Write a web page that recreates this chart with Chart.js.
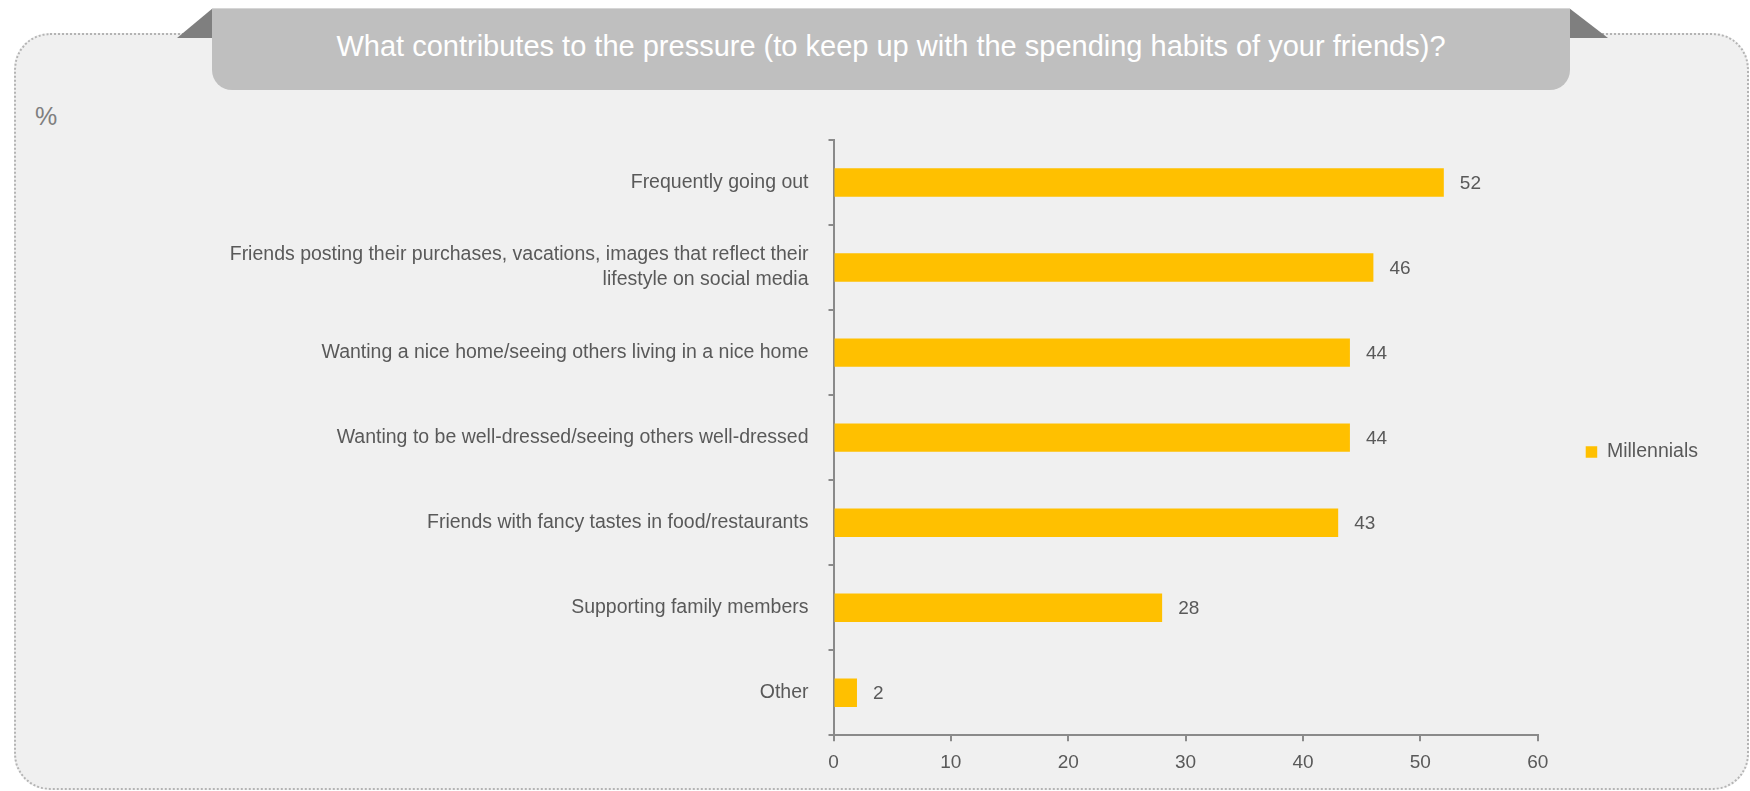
<!DOCTYPE html>
<html>
<head>
<meta charset="utf-8">
<script src="https://cdn.jsdelivr.net/npm/chart.js@4.4.1/dist/chart.umd.min.js"></script>
<style>
  html, body { margin: 0; padding: 0; background: #ffffff; }
  #stage { position: relative; width: 1750px; height: 791px; overflow: hidden; font-family: "Liberation Sans", Arial, sans-serif; }
  #frame {
    position: absolute; left: 14px; top: 33px; width: 1731px; height: 753px;
    background: #f0f0f0; border: 2px dotted #b4b4b4; border-radius: 36px;
  }
  .flap { position: absolute; background: #7f7f7f; }
  #flapL { left: 177px; top: 8px; width: 36px; height: 30px; clip-path: polygon(0 100%, 100% 0, 100% 100%); }
  #flapR { left: 1569px; top: 8px; width: 39px; height: 30px; clip-path: polygon(0 0, 100% 100%, 0 100%); }
  #tab {
    position: absolute; left: 212px; top: 8px; width: 1358px; height: 82px;
    background: #bfbfbf; border-radius: 0 0 20px 20px; border-top: 1px solid #d6d6d6; box-sizing: border-box;
  }
  #title {
    position: absolute; left: 212px; top: 32px; width: 1358px; text-align: center;
    font-size: 29px; line-height: 29px; color: #ffffff; white-space: nowrap;
  }
  #unit { position: absolute; left: 35px; top: 104px; font-size: 25px; line-height: 25px; color: #7f7f7f; }
  #chart { position: absolute; left: 0; top: 100px; }
</style>
</head>
<body>
<div id="stage">
  <div id="frame"></div>
  <div class="flap" id="flapL"></div>
  <div class="flap" id="flapR"></div>
  <div id="tab"></div>
  <div id="title">What contributes to the pressure (to keep up with the spending habits of your friends)?</div>
  <div id="unit">%</div>
  <canvas id="chart" width="1750" height="691"></canvas>
</div>
<script>
const categories = [
  'Frequently going out',
  ['Friends posting their purchases, vacations, images that reflect their', 'lifestyle on social media'],
  'Wanting a nice home/seeing others living in a nice home',
  'Wanting to be well-dressed/seeing others well-dressed',
  'Friends with fancy tastes in food/restaurants',
  'Supporting family members',
  'Other'
];
const millennials = [52, 46, 44, 44, 43, 28, 2];
const xTicks = [0, 10, 20, 30, 40, 50, 60];

const FONT = '"Liberation Sans", Arial, sans-serif';
const TEXT = '#595959';
const AXIS = '#8a8a8a';

// value printed just past the end of each bar
const barValues = {
  id: 'barValues',
  afterDatasetsDraw(chart) {
    const ctx = chart.ctx;
    const meta = chart.getDatasetMeta(0);
    ctx.save();
    ctx.font = '19px ' + FONT;
    ctx.fillStyle = TEXT;
    ctx.textAlign = 'left';
    ctx.textBaseline = 'middle';
    meta.data.forEach((bar, i) => {
      ctx.fillText(String(millennials[i]), bar.x + 16, bar.y + 1);
    });
    ctx.restore();
  }
};

new Chart(document.getElementById('chart'), {
  type: 'bar',
  data: {
    labels: categories,
    datasets: [{
      label: 'Millennials',
      data: millennials,
      backgroundColor: '#ffc000',
      borderWidth: 0,
      categoryPercentage: 1,
      barPercentage: 0.334
    }]
  },
  options: {
    indexAxis: 'y',
    responsive: false,
    devicePixelRatio: 1,
    animation: false,
    layout: { padding: { top: 40, bottom: 15.7, left: 0, right: 42 } },
    plugins: {
      tooltip: { enabled: false },
      legend: {
        position: 'right',
        fullSize: false,
        // empty title just nudges the single entry a little below the plot's middle
        title: { display: true, text: '', font: { size: 20, lineHeight: 1.2 }, padding: { top: 2.4, bottom: 2.4 } },
        labels: {
          boxWidth: 11.5, boxHeight: 11.5, padding: 48,
          color: TEXT, font: { family: FONT, size: 19.5 }
        }
      }
    },
    scales: {
      x: {
        min: 0, max: 60,
        afterBuildTicks(scale) { scale.ticks = xTicks.map(v => ({ value: v })); },
        afterFit(scale) { scale.height = 40; },
        border: { color: AXIS, width: 2 },
        grid: { drawOnChartArea: false, drawTicks: true, tickLength: 6, color: AXIS, lineWidth: 2 },
        ticks: { color: TEXT, font: { family: FONT, size: 19 }, padding: 10 }
      },
      y: {
        afterFit(scale) { scale.width = 833.5; },
        border: { color: AXIS, width: 2 },
        grid: { drawOnChartArea: false, drawTicks: true, tickLength: 5, color: AXIS, lineWidth: 2, offset: true },
        ticks: { color: TEXT, autoSkip: false, font: { family: FONT, size: 19.5, lineHeight: 1.28 }, padding: 20 }
      }
    }
  },
  plugins: [barValues]
});
</script>
</body>
</html>
